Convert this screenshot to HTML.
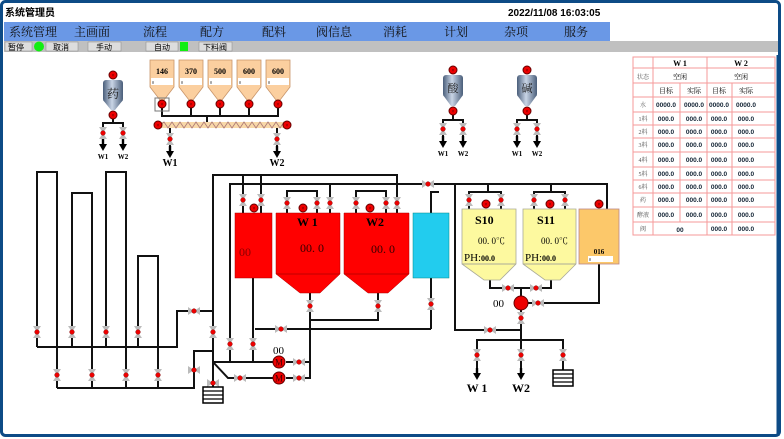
<!DOCTYPE html>
<html><head><meta charset="utf-8"><style>
html,body{margin:0;padding:0;background:#fff;}
body{width:784px;height:439px;overflow:hidden;position:relative;font-family:"Liberation Serif","Noto Serif CJK SC",serif;}
svg{position:absolute;left:0;top:0;}
</style></head><body>
<svg width="784" height="439" viewBox="0 0 784 439" xmlns="http://www.w3.org/2000/svg">
<defs>
<linearGradient id="met" x1="0" x2="1"><stop offset="0" stop-color="#4a5e7a"/><stop offset="0.45" stop-color="#c9d5e6"/><stop offset="1" stop-color="#4a5e7a"/></linearGradient>
<g id="vv"><polygon points="-4,-6 4,-6 0,0" fill="#bbb"/><polygon points="-4,6 4,6 0,0" fill="#bbb"/><circle r="2.3" fill="#e00" stroke="#800" stroke-width="0.5"/></g>
<g id="vh"><polygon points="-6,-4 -6,4 0,0" fill="#bbb"/><polygon points="6,-4 6,4 0,0" fill="#bbb"/><circle r="2.3" fill="#e00" stroke="#800" stroke-width="0.5"/></g>
<g id="rd"><circle r="4" fill="#e00" stroke="#600" stroke-width="1"/><text x="0" y="2" font-size="5" text-anchor="middle" fill="#600" font-family="Liberation Sans">×</text></g>
<g id="ar"><rect x="-1.2" y="-8" width="2.4" height="6" fill="#000"/><polygon points="-4,-3 4,-3 0,4" fill="#000"/></g>
<g id="box"><rect x="-10" y="0" width="20" height="16" fill="#fff" stroke="#000" stroke-width="1.5"/><line x1="-10" y1="4" x2="10" y2="4" stroke="#000" stroke-width="1.2"/><line x1="-10" y1="8" x2="10" y2="8" stroke="#000" stroke-width="1.2"/><line x1="-10" y1="12" x2="10" y2="12" stroke="#000" stroke-width="1.2"/></g>
</defs>
<!-- frame -->
<rect x="1.5" y="1.5" width="778" height="434" rx="4" fill="none" stroke="#0d4b86" stroke-width="3"/>
<text x="5" y="16" font-size="10" font-weight="bold" font-family="Liberation Sans,'Noto Sans CJK SC',sans-serif">系统管理员</text>
<text x="508" y="16" font-size="10" font-weight="bold" font-family="Liberation Sans,sans-serif">2022/11/08  16:03:05</text>
<rect x="4" y="22" width="606" height="19" fill="#6a98e6"/>
<g font-size="12" fill="#111" font-family="'Noto Serif CJK SC',serif">
<text x="9" y="36">系统管理</text><text x="74" y="36">主画面</text><text x="143" y="36">流程</text><text x="200" y="36">配方</text><text x="262" y="36">配料</text><text x="316" y="36">阀信息</text><text x="383" y="36">消耗</text><text x="444" y="36">计划</text><text x="504" y="36">杂项</text><text x="564" y="36">服务</text>
</g>
<rect x="4" y="41" width="774" height="11" fill="#c0c0c0"/>
<g font-size="8" font-family="'Noto Sans CJK SC',sans-serif">
<rect x="5" y="42" width="27" height="9" fill="#ddd" stroke="#888" stroke-width="0.5"/><text x="8" y="50">暂停</text>
<circle cx="39" cy="46.5" r="5" fill="#1e1"/>
<rect x="46" y="42" width="32" height="9" fill="#ddd" stroke="#888" stroke-width="0.5"/><text x="53" y="50">取消</text>
<rect x="88" y="42" width="33" height="9" fill="#ddd" stroke="#888" stroke-width="0.5"/><text x="96" y="50">手动</text>
<rect x="146" y="42" width="32" height="9" fill="#ddd" stroke="#888" stroke-width="0.5"/><text x="154" y="50">自动</text>
<rect x="180" y="42" width="8" height="9" fill="#1e1"/>
<rect x="199" y="42" width="33" height="9" fill="#ddd" stroke="#888" stroke-width="0.5"/><text x="203" y="50">下料阀</text>
</g>
<!-- table -->
<g stroke="#f59a9a" stroke-width="1" fill="none">
<rect x="633" y="57" width="142" height="178"/>
<line x1="653" y1="57" x2="653" y2="235"/><line x1="707" y1="57" x2="707" y2="235"/>
<line x1="680" y1="83" x2="680" y2="222"/><line x1="732" y1="83" x2="732" y2="235"/>
<line x1="633" y1="68" x2="775" y2="68"/><line x1="633" y1="83" x2="775" y2="83"/><line x1="633" y1="97" x2="775" y2="97"/><line x1="633" y1="112" x2="775" y2="112"/><line x1="633" y1="125" x2="775" y2="125"/><line x1="633" y1="138" x2="775" y2="138"/><line x1="633" y1="152" x2="775" y2="152"/><line x1="633" y1="167" x2="775" y2="167"/><line x1="633" y1="180" x2="775" y2="180"/><line x1="633" y1="193" x2="775" y2="193"/><line x1="633" y1="207" x2="775" y2="207"/><line x1="633" y1="222" x2="775" y2="222"/>
</g>
<g font-size="7" font-family="Liberation Serif,'Noto Serif CJK SC',serif" text-anchor="middle">
<text x="680" y="66" font-weight="bold" font-size="8">W 1</text><text x="741" y="66" font-weight="bold" font-size="8">W 2</text>
<text x="643" y="79" font-size="6" fill="#555">状态</text><text x="680" y="79">空闲</text><text x="741" y="79">空闲</text>
<text x="666" y="93">目标</text><text x="694" y="93">实际</text><text x="719" y="93">目标</text><text x="746" y="93">实际</text>
<g fill="#555" font-size="6"><text x="643" y="107">水</text><text x="643" y="121">1料</text><text x="643" y="134">2料</text><text x="643" y="147">3料</text><text x="643" y="162">4料</text><text x="643" y="176">5料</text><text x="643" y="189">6料</text><text x="643" y="202">药</text><text x="643" y="217">酵液</text><text x="643" y="231">阀</text></g>
<g fill="#123" font-weight="bold" font-size="6.5" font-family="Liberation Sans,sans-serif">
<text x="666" y="107">0000.0</text><text x="694" y="107">0000.0</text><text x="719" y="107">0000.0</text><text x="746" y="107">0000.0</text>
<g id="rows"><text x="666" y="121">000.0</text><text x="694" y="121">000.0</text><text x="719" y="121">000.0</text><text x="746" y="121">000.0</text></g>
<use href="#rows" y="13"/><use href="#rows" y="26"/><use href="#rows" y="41"/><use href="#rows" y="55"/><use href="#rows" y="68"/><use href="#rows" y="81"/><use href="#rows" y="96"/>
<text x="680" y="232">00</text><text x="719" y="231">000.0</text><text x="746" y="231">000.0</text>
</g></g>
<line x1="778" y1="55" x2="778" y2="436" stroke="#0d4b86" stroke-width="3"/>

<!-- pipes -->
<g stroke="#111" stroke-width="2" fill="none">
<!-- drug tank branches -->
<polyline points="113,116 113,123"/><polyline points="103,132 103,123 123,123 123,132"/><line x1="103" y1="132" x2="103" y2="142"/><line x1="123" y1="132" x2="123" y2="142"/>
<polyline points="453,112 453,120"/><polyline points="443,142 443,120 463,120 463,142"/>
<polyline points="527,112 527,120"/><polyline points="517,142 517,120 537,120 537,142"/>
<!-- hoppers collector -->
<polyline points="162,104 162,116 278,116 278,104"/><line x1="191" y1="104" x2="191" y2="116"/><line x1="220" y1="104" x2="220" y2="116"/><line x1="249" y1="104" x2="249" y2="116"/><line x1="207" y1="116" x2="207" y2="125"/>
<line x1="170" y1="125" x2="170" y2="148"/><line x1="277" y1="125" x2="277" y2="148"/>
<!-- left loops -->
<polyline points="37,347 37,172 57,172 57,388"/><polyline points="72,347 72,193 92,193 92,388"/><polyline points="106,347 106,172 126,172 126,388"/><polyline points="138,347 138,256 158,256 158,388"/>
<polyline points="37,347 177,347 177,311 213,311"/><polyline points="57,388 194,388 194,351 213,351"/>
<polyline points="213,395 213,175 397,175 397,213"/>
<polyline points="230,362 230,184 607,184 607,209"/>
<line x1="213" y1="362" x2="279" y2="362"/><polyline points="213,362 228,378 279,378"/>
<line x1="253" y1="362" x2="253" y2="278"/>
<polyline points="286,362 310,362 310,289"/><polyline points="286,378 310,378 310,320"/>
<line x1="255" y1="329" x2="431" y2="329"/><line x1="431" y1="329" x2="431" y2="278"/>
<polyline points="310,320 378,320 378,293"/>
<!-- tank top lines -->
<line x1="243" y1="175" x2="243" y2="213"/><line x1="261" y1="175" x2="261" y2="213"/>
<polyline points="287,213 287,191 317,191 317,213"/><polyline points="356,213 356,191 386,191 386,213"/><line x1="330" y1="184" x2="330" y2="213"/><line x1="397" y1="184" x2="397" y2="213"/>
<polyline points="431,213 431,192 439,192"/>
<polyline points="469,209 469,192 501,192 501,209"/><polyline points="534,209 534,192 565,192 565,209"/>
<line x1="488" y1="184" x2="488" y2="192"/><line x1="551" y1="184" x2="551" y2="192"/>
<polyline points="490,280 490,288 551,288 551,280"/><line x1="521" y1="288" x2="521" y2="296"/>
<polyline points="528,303 599,303 599,264"/>
<polyline points="455,184 455,330 521,330"/><line x1="521" y1="310" x2="521" y2="340"/>
<polyline points="477,368 477,340 563,340 563,370"/><line x1="521" y1="340" x2="521" y2="368"/>
</g>
<!-- conveyor -->
<rect x="160" y="122" width="126" height="6" fill="#f8d8a8"/>
<polyline points="160,125 164,122 168,128 172,122 176,128 180,122 184,128 188,122 192,128 196,122 200,128 204,122 208,128 212,122 216,128 220,122 224,128 228,122 232,128 236,122 240,128 244,122 248,128 252,122 256,128 260,122 264,128 268,122 272,128 276,122 280,128 284,122 286,125" fill="none" stroke="#a77" stroke-width="0.8"/>
<use href="#rd" x="158" y="125"/><use href="#rd" x="287" y="125"/>

<!-- drug tank -->
<g><rect x="103" y="80" width="20" height="22" rx="3" fill="url(#met)"/><polygon points="103,100 123,100 115,110 111,110" fill="url(#met)"/>
<text x="113" y="98" font-size="12" text-anchor="middle" fill="#222" font-family="'Noto Serif CJK SC',serif">药</text>
<use href="#rd" x="113" y="75"/><use href="#rd" x="113" y="115"/></g>
<g><rect x="443" y="75" width="20" height="22" rx="3" fill="url(#met)"/><polygon points="443,95 463,95 455,106 451,106" fill="url(#met)"/>
<text x="453" y="92" font-size="11" text-anchor="middle" fill="#222" font-family="'Noto Serif CJK SC',serif">酸</text>
<use href="#rd" x="453" y="70"/><use href="#rd" x="453" y="111"/></g>
<g><rect x="517" y="75" width="20" height="22" rx="3" fill="url(#met)"/><polygon points="517,95 537,95 529,106 525,106" fill="url(#met)"/>
<text x="527" y="92" font-size="11" text-anchor="middle" fill="#222" font-family="'Noto Serif CJK SC',serif">碱</text>
<use href="#rd" x="527" y="70"/><use href="#rd" x="527" y="111"/></g>
<!-- hoppers -->
<g id="hp"><polygon points="150,60 174,60 174,87 164,100 160,100 150,87" fill="#fbcf9f" stroke="#c8956a" stroke-width="0.8"/><rect x="151" y="78" width="22" height="7" fill="#fff"/><text x="152" y="84" font-size="4">0</text></g>
<use href="#hp" x="29"/><use href="#hp" x="58"/><use href="#hp" x="87"/><use href="#hp" x="116"/>
<g font-size="8" font-weight="bold" text-anchor="middle"><text x="162" y="74">146</text><text x="191" y="74">370</text><text x="220" y="74">500</text><text x="249" y="74">600</text><text x="278" y="74">600</text></g>
<rect x="155" y="98" width="14" height="13" fill="none" stroke="#777" stroke-width="1"/>
<use href="#rd" x="162" y="104"/><use href="#rd" x="191" y="104"/><use href="#rd" x="220" y="104"/><use href="#rd" x="249" y="104"/><use href="#rd" x="278" y="104"/>

<!-- arrows and labels -->
<g><use href="#vv" x="103" y="133"/><use href="#vv" x="123" y="133"/><use href="#ar" x="103" y="147"/><use href="#ar" x="123" y="147"/>
<use href="#vv" x="170" y="139"/><use href="#vv" x="277" y="139"/><use href="#ar" x="170" y="154"/><use href="#ar" x="277" y="154"/>
<use href="#vv" x="443" y="129"/><use href="#vv" x="463" y="129"/><use href="#ar" x="443" y="144"/><use href="#ar" x="463" y="144"/>
<use href="#vv" x="517" y="129"/><use href="#vv" x="537" y="129"/><use href="#ar" x="517" y="144"/><use href="#ar" x="537" y="144"/></g>
<g font-size="7" font-weight="bold" text-anchor="middle"><text x="103" y="159">W1</text><text x="123" y="159">W2</text><text x="443" y="156">W1</text><text x="463" y="156">W2</text><text x="517" y="156">W1</text><text x="537" y="156">W2</text></g>
<g font-size="10" font-weight="bold" text-anchor="middle"><text x="170" y="166">W1</text><text x="277" y="166">W2</text></g>

<!-- tanks -->
<rect x="235" y="213" width="37" height="65" fill="#f00" stroke="#a00" stroke-width="0.5"/>
<text x="239" y="256" font-size="12" fill="#800">00</text>
<polygon points="276,213 340,213 340,274 320,293 300,293 276,274" fill="#f00" stroke="#a00" stroke-width="0.5"/><line x1="276" y1="274" x2="340" y2="274" stroke="#a00" stroke-width="0.8"/>
<polygon points="344,213 409,213 409,274 388,293 368,293 344,274" fill="#f00" stroke="#a00" stroke-width="0.5"/><line x1="344" y1="274" x2="409" y2="274" stroke="#a00" stroke-width="0.8"/>
<text x="297" y="226" font-size="12" font-weight="bold">W 1</text><text x="366" y="226" font-size="12" font-weight="bold">W2</text>
<text x="300" y="252" font-size="12" fill="#300">00. 0</text><text x="371" y="253" font-size="12" fill="#300">00. 0</text>
<rect x="413" y="213" width="36" height="65" fill="#22ccee" stroke="#088" stroke-width="0.5"/>
<polygon points="462,209 516,209 516,264 500,280 484,280 462,264" fill="#fdf99f" stroke="#aa9" stroke-width="0.8"/><line x1="462" y1="264" x2="516" y2="264" stroke="#aa9"/>
<polygon points="523,209 576,209 576,264 560,280 545,280 523,264" fill="#fdf99f" stroke="#aa9" stroke-width="0.8"/><line x1="523" y1="264" x2="576" y2="264" stroke="#aa9"/>
<text x="475" y="224" font-size="12" font-weight="bold">S10</text><text x="537" y="224" font-size="12" font-weight="bold">S11</text>
<text x="478" y="244" font-size="9">00. 0℃</text><text x="541" y="244" font-size="9">00. 0℃</text>
<text x="464" y="261" font-size="11">PH:</text><text x="481" y="261" font-size="8" font-weight="bold">00.0</text>
<text x="525" y="261" font-size="11">PH:</text><text x="542" y="261" font-size="8" font-weight="bold">00.0</text>
<rect x="579" y="209" width="40" height="55" fill="#fcc86a" stroke="#b88" stroke-width="0.8"/>
<text x="599" y="254" font-size="7" font-weight="bold" text-anchor="middle">016</text>
<rect x="588" y="256" width="25" height="6" fill="#fff"/><text x="589" y="261" font-size="4">0</text>
<!-- tank-top red dots -->
<use href="#rd" x="254" y="208"/><use href="#rd" x="303" y="208"/><use href="#rd" x="370" y="208"/>
<use href="#rd" x="486" y="204"/><use href="#rd" x="550" y="204"/><use href="#rd" x="599" y="204"/>
<!-- valves on tank lines -->
<g><use href="#vv" x="243" y="200"/><use href="#vv" x="261" y="200"/><use href="#vv" x="287" y="203"/><use href="#vv" x="317" y="203"/><use href="#vv" x="330" y="203"/><use href="#vv" x="356" y="203"/><use href="#vv" x="386" y="203"/><use href="#vv" x="397" y="203"/>
<use href="#vh" x="428" y="184"/>
<use href="#vv" x="469" y="200"/><use href="#vv" x="501" y="200"/><use href="#vv" x="534" y="200"/><use href="#vv" x="565" y="200"/>
<use href="#vh" x="508" y="288"/><use href="#vh" x="536" y="288"/>
<use href="#vh" x="538" y="303"/><use href="#vv" x="521" y="318"/><use href="#vh" x="490" y="330"/>
<use href="#vv" x="477" y="355"/><use href="#vv" x="521" y="355"/><use href="#vv" x="563" y="355"/>
<use href="#vv" x="310" y="306"/><use href="#vv" x="378" y="306"/><use href="#vv" x="431" y="304"/>
<use href="#vh" x="281" y="329"/><use href="#vv" x="230" y="344"/><use href="#vv" x="253" y="344"/>
<use href="#vh" x="299" y="362"/><use href="#vh" x="299" y="378"/><use href="#vh" x="240" y="378"/>
<use href="#vh" x="194" y="311"/><use href="#vv" x="213" y="332"/><use href="#vh" x="194" y="370"/><use href="#vh" x="213" y="383"/>
<use href="#vv" x="37" y="332"/><use href="#vv" x="72" y="332"/><use href="#vv" x="106" y="332"/><use href="#vv" x="138" y="332"/>
<use href="#vv" x="57" y="375"/><use href="#vv" x="92" y="375"/><use href="#vv" x="126" y="375"/><use href="#vv" x="158" y="375"/>
</g>
<!-- pump & motors -->
<circle cx="521" cy="303" r="7" fill="#e00" stroke="#600"/>
<text x="493" y="307" font-size="11">00</text>
<circle cx="279" cy="362" r="6" fill="#e00" stroke="#600"/><text x="279" y="365.5" font-size="9" text-anchor="middle" fill="#400">M</text>
<circle cx="279" cy="378" r="6" fill="#e00" stroke="#600"/><text x="279" y="381.5" font-size="9" text-anchor="middle" fill="#400">M</text>
<text x="273" y="354" font-size="11">00</text>
<use href="#ar" x="477" y="376"/><use href="#ar" x="521" y="376"/>
<text x="477" y="392" font-size="12" font-weight="bold" text-anchor="middle">W 1</text><text x="521" y="392" font-size="12" font-weight="bold" text-anchor="middle">W2</text>
<use href="#box" x="563" y="370"/><use href="#box" x="213" y="387"/>
</svg>
</body></html>
